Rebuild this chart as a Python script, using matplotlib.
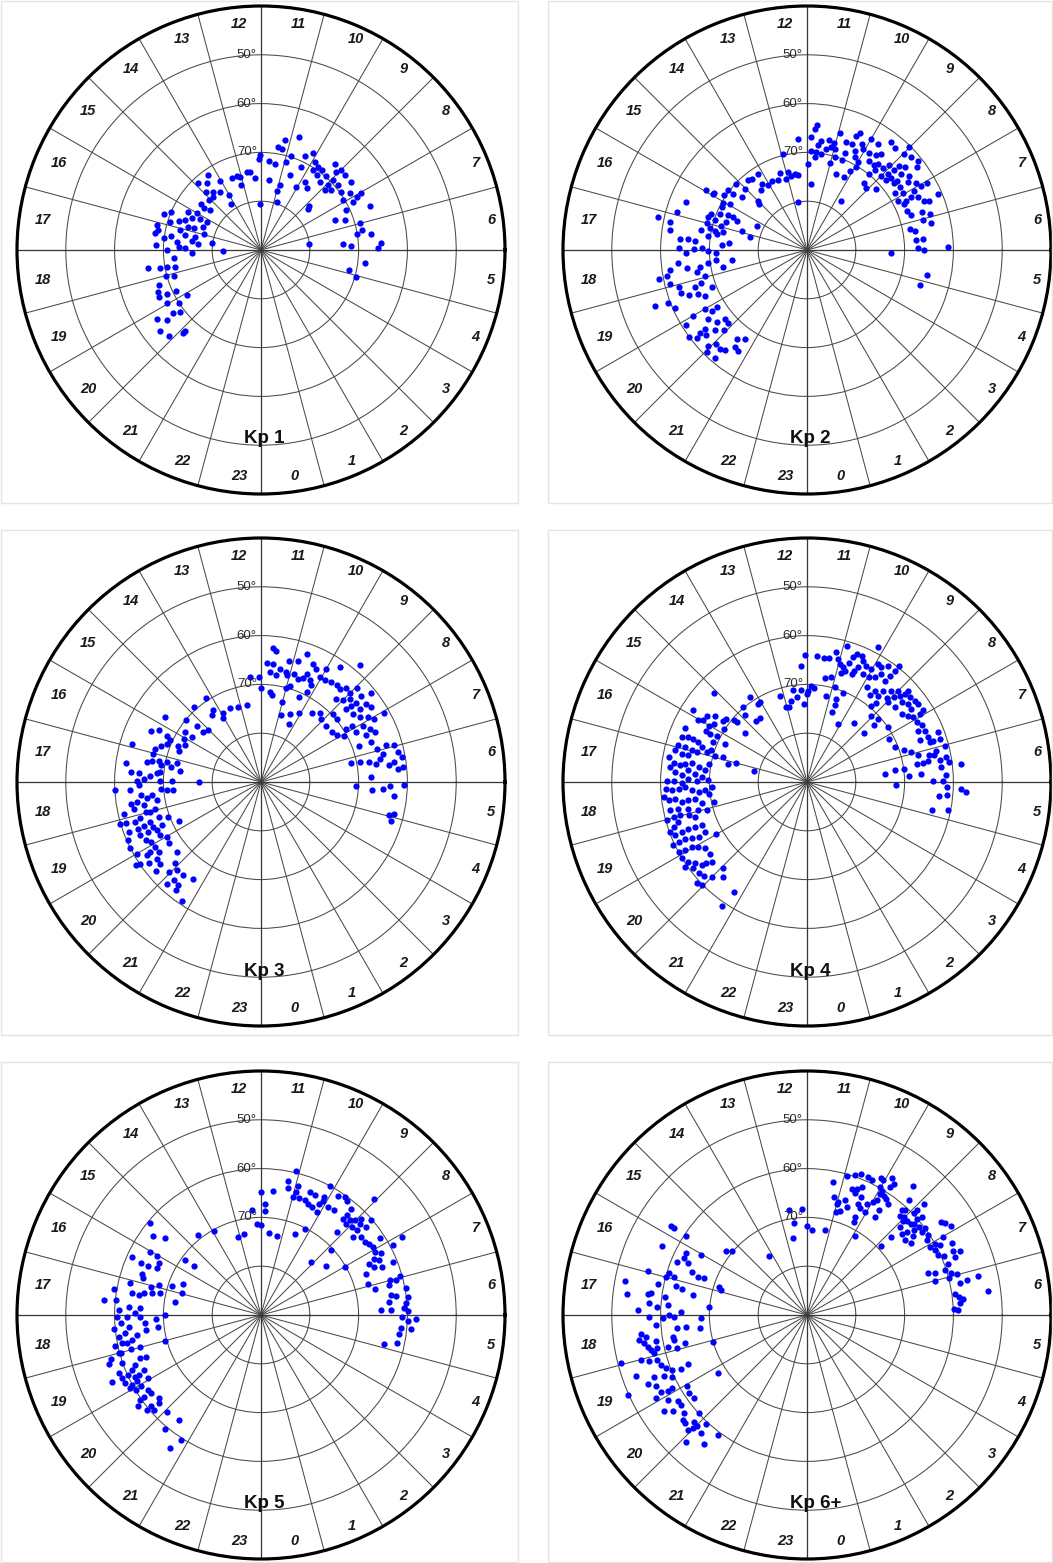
import matplotlib
matplotlib.use('Agg')
import matplotlib.pyplot as plt
import numpy as np
from matplotlib.patches import Rectangle

plt.rcParams['font.family'] = ['Liberation Sans', 'DejaVu Sans']

# panel titles, hour labels, latitude rings
titles = ['Kp 1', 'Kp 2', 'Kp 3', 'Kp 4', 'Kp 5', 'Kp 6+']
hours = list(range(24))
ring_lats = [80, 70, 60, 50]
label_lats = [70, 60, 50]
lat_min = 40

# observations per Kp level: (MLT hours, magnetic latitude deg)
kp1 = [
    (10.77, 65.6), (11.18, 67.0), (11.37, 68.6), (11.23, 68.8), (12.04, 70.6), (12.08, 71.3),
    (11.66, 71.6), (11.39, 72.1), (10.95, 71.3), (10.83, 69.9), (10.33, 68.8), (10.11, 67.5),
    (10.29, 71.2), (9.91, 68.8), (9.70, 69.4), (9.79, 70.5), (9.49, 69.4), (9.56, 70.9),
    (9.25, 69.7), (9.28, 71.6), (8.93, 70.9), (8.88, 72.1), (9.30, 66.7), (8.99, 66.8),
    (9.07, 67.8), (8.79, 67.0), (8.47, 66.8), (8.94, 69.5), (8.67, 69.4), (8.69, 71.1),
    (8.39, 69.7), (8.17, 68.4), (7.94, 67.6), (7.98, 66.3), (7.84, 68.7), (7.67, 70.7),
    (8.09, 70.3), (7.47, 66.0), (7.31, 71.8), (7.47, 73.7), (7.01, 69.0), (6.75, 69.0),
    (6.65, 70.1), (6.54, 67.3), (6.21, 65.4), (6.05, 66.1), (6.26, 73.1), (6.18, 71.5),
    (6.45, 80.1), (5.51, 68.6), (5.13, 71.4), (4.93, 69.7), (8.82, 76.7), (8.70, 77.2),
    (9.81, 73.4), (9.53, 74.2), (10.04, 75.2), (10.59, 73.6), (10.91, 76.2), (10.97, 77.4),
    (11.54, 75.6), (10.80, 79.7), (12.05, 80.6), (12.32, 75.2), (12.53, 73.9), (12.69, 73.8),
    (13.07, 74.4), (13.16, 76.1), (13.21, 74.1), (13.47, 74.0), (14.18, 78.7), (18.07, 82.3),
    (14.03, 73.5), (14.01, 77.0), (14.34, 75.4), (14.62, 74.6), (14.89, 73.6), (14.61, 72.4),
    (14.88, 71.1), (14.37, 71.2), (15.10, 75.2), (14.83, 75.4), (15.46, 76.8), (15.57, 75.4),
    (15.99, 74.8), (15.51, 74.5), (16.15, 73.2), (16.37, 74.4), (16.57, 73.3), (16.70, 72.1),
    (16.82, 74.3), (16.81, 75.5), (16.17, 76.0), (16.57, 77.3), (16.15, 77.6), (16.93, 77.8),
    (17.27, 76.3), (17.64, 77.0), (17.43, 79.8), (17.25, 74.2), (17.49, 75.7), (16.63, 68.7),
    (16.48, 69.9), (17.10, 68.1), (17.27, 68.6), (16.85, 70.5), (17.07, 73.0), (17.55, 69.9),
    (17.98, 70.7), (17.82, 68.4), (17.63, 72.7), (17.88, 73.1), (17.91, 74.5), (18.18, 75.8),
    (18.61, 66.6), (18.69, 69.0), (18.67, 70.5), (18.73, 72.1), (19.03, 69.7), (19.13, 71.4),
    (19.25, 67.9), (19.46, 67.2), (19.65, 67.0), (19.74, 70.7), (20.07, 72.2), (19.67, 68.8),
    (19.97, 67.9), (20.19, 69.9), (20.37, 67.8), (20.49, 69.2), (20.24, 64.4), (20.44, 66.0),
    (20.59, 63.5), (20.89, 64.2), (21.12, 67.1), (21.13, 66.6), (18.36, 72.0), (17.40, 68.1),
    (17.41, 71.4),
]

kp2 = [
    (11.69, 64.4), (11.74, 65.1), (10.96, 65.2), (10.39, 63.7), (10.45, 64.5), (12.31, 67.1),
    (11.85, 66.9), (11.53, 67.4), (11.26, 67.1), (11.06, 67.4), (11.11, 68.4), (10.95, 68.6),
    (11.28, 68.9), (11.60, 68.4), (11.64, 69.9), (11.44, 70.1), (11.83, 69.7), (11.66, 70.9),
    (10.67, 66.5), (10.47, 66.5), (10.18, 65.5), (10.08, 66.3), (10.29, 67.5), (10.57, 68.6),
    (10.58, 70.3), (10.17, 68.6), (9.98, 69.1), (9.95, 70.3), (10.11, 71.6), (10.21, 73.3),
    (10.60, 73.3), (10.90, 70.1), (11.00, 71.5), (10.01, 63.7), (9.75, 63.9), (9.47, 62.0),
    (9.29, 62.4), (9.81, 66.4), (9.59, 66.0), (9.48, 65.2), (9.66, 67.8), (9.47, 67.8),
    (9.36, 67.1), (9.31, 68.4), (9.16, 67.1), (9.05, 65.8), (8.89, 67.2), (8.84, 65.7),
    (8.82, 64.4), (9.00, 68.6), (8.76, 68.4), (8.71, 67.3), (8.49, 66.7), (8.59, 65.3),
    (9.01, 60.3), (8.98, 62.0), (8.79, 61.4), (8.59, 60.9), (8.47, 61.8), (8.69, 63.7),
    (8.39, 64.1), (8.11, 63.7), (8.27, 65.1), (7.96, 63.2), (7.93, 61.8), (7.93, 64.9),
    (8.05, 67.2), (7.76, 67.3), (7.79, 66.0), (7.69, 64.8), (7.51, 64.0), (7.46, 63.0),
    (7.55, 60.7), (8.27, 67.1), (8.51, 67.6), (8.20, 68.5), (7.89, 68.8), (7.69, 68.1),
    (7.42, 67.9), (7.23, 67.6), (7.21, 65.3), (7.10, 63.7), (6.96, 65.4), (6.81, 64.1),
    (6.75, 68.4), (6.67, 67.6), (6.35, 67.6), (6.35, 66.1), (6.06, 67.3), (6.01, 66.1),
    (6.07, 61.2), (5.88, 72.8), (5.22, 64.8), (4.86, 65.7), (9.11, 72.4), (8.77, 71.1),
    (9.32, 72.0), (9.37, 69.9), (9.65, 77.8), (12.70, 80.0), (11.79, 76.5), (11.96, 72.3),
    (12.93, 69.7), (12.91, 73.5), (12.83, 74.5), (12.58, 74.2), (13.08, 74.9), (12.45, 74.6),
    (13.30, 73.3), (13.48, 74.4), (13.79, 74.2), (14.05, 74.4), (14.27, 73.7), (14.49, 74.6),
    (14.99, 75.8), (15.05, 76.4), (14.54, 71.6), (14.67, 71.3), (14.21, 71.5), (15.04, 72.2),
    (15.39, 72.7), (15.14, 70.0), (15.51, 71.0), (15.52, 69.7), (15.77, 69.7), (16.06, 70.4),
    (15.95, 71.6), (15.89, 67.7), (15.97, 65.9), (16.31, 78.6), (17.17, 78.0), (16.89, 76.2),
    (16.50, 74.4), (16.40, 73.3), (16.41, 72.4), (16.21, 70.4), (16.51, 70.7), (16.63, 69.1),
    (16.80, 70.2), (16.78, 68.7), (16.99, 68.7), (17.13, 69.6), (17.21, 70.7), (16.95, 71.6),
    (16.73, 72.4), (17.21, 72.5), (17.35, 71.2), (17.47, 69.6), (17.29, 68.0), (17.69, 67.0),
    (17.66, 65.6), (17.68, 63.9), (17.95, 63.7), (18.10, 65.2), (17.98, 66.9), (17.94, 68.4),
    (18.03, 69.8), (18.11, 71.3), (17.78, 72.5), (17.68, 74.0), (18.50, 74.4), (18.75, 72.5),
    (18.41, 71.2), (18.51, 69.6), (18.61, 67.8), (18.74, 67.0), (18.97, 68.4), (19.16, 67.3),
    (19.21, 65.9), (18.58, 65.1), (18.39, 63.5), (18.55, 61.7), (18.71, 60.8), (18.74, 59.0),
    (18.92, 61.0), (19.08, 62.7), (19.25, 62.8), (19.39, 64.1), (19.47, 66.0), (19.61, 67.1),
    (19.42, 69.0), (19.35, 56.9), (19.38, 59.5), (19.59, 60.5), (20.01, 63.1), (20.01, 65.9),
    (20.20, 66.9), (20.15, 68.1), (20.33, 65.3), (20.58, 66.3), (20.67, 68.0), (20.86, 68.0),
    (20.92, 66.3), (20.74, 65.0), (20.52, 63.6), (20.52, 62.3), (20.66, 62.9), (20.42, 59.9),
    (20.57, 61.1), (20.95, 61.8), (21.05, 63.2), (21.25, 63.0), (21.39, 63.5), (21.31, 61.0),
    (21.57, 65.3), (21.72, 64.9), (21.45, 66.7), (21.69, 67.8), (21.04, 60.7), (20.11, 60.8),
    (17.22, 61.4), (17.17, 58.8), (17.45, 61.7), (16.92, 62.2), (16.55, 63.3), (15.93, 67.6),
]

kp3 = [
    (11.65, 62.4), (11.57, 63.0), (10.67, 62.2), (11.82, 65.5), (11.60, 65.6), (11.13, 64.6),
    (10.86, 64.1), (10.42, 63.5), (10.29, 64.2), (10.01, 63.3), (9.69, 61.4), (9.33, 58.6),
    (11.37, 66.5), (11.15, 66.9), (11.45, 67.9), (11.08, 67.4), (10.87, 66.9), (10.69, 67.5),
    (10.53, 67.1), (10.45, 66.0), (10.29, 66.9), (10.89, 69.4), (11.01, 70.1), (11.69, 67.4),
    (12.06, 68.4), (12.00, 70.7), (11.62, 71.4), (11.51, 72.0), (11.03, 73.1), (10.91, 75.7),
    (10.46, 74.9), (10.27, 76.8), (10.07, 73.9), (10.39, 70.8), (10.19, 69.2), (10.17, 67.6),
    (9.56, 72.4), (9.30, 71.5), (9.11, 72.2), (10.05, 65.4), (9.87, 65.4), (9.65, 65.0),
    (9.47, 64.8), (9.32, 65.0), (9.19, 63.9), (9.02, 64.2), (8.95, 62.5), (8.73, 63.0),
    (8.59, 61.0), (9.19, 67.0), (8.99, 66.3), (8.87, 65.1), (8.68, 65.8), (8.64, 64.7),
    (8.42, 64.8), (8.44, 63.1), (8.27, 62.7), (8.71, 67.0), (8.43, 66.5), (8.22, 65.8),
    (8.08, 64.4), (7.95, 63.5), (7.95, 61.2), (7.93, 66.1), (7.74, 65.2), (7.57, 64.5),
    (8.89, 69.7), (8.65, 69.7), (8.72, 72.3), (8.33, 72.2), (8.11, 71.8), (7.95, 70.5),
    (8.13, 69.4), (8.11, 68.0), (7.84, 68.0), (7.59, 66.4), (7.33, 66.0), (7.07, 65.3),
    (7.09, 63.3), (7.03, 61.8), (6.82, 61.3), (6.86, 64.4), (6.74, 65.2), (6.60, 66.1),
    (6.49, 63.5), (6.57, 62.4), (6.66, 60.7), (6.40, 60.8), (6.37, 61.8), (6.69, 67.4),
    (6.16, 67.4), (7.36, 68.6), (6.75, 69.3), (6.79, 71.1), (5.83, 70.5), (5.71, 67.1),
    (5.78, 65.0), (5.87, 63.5), (5.59, 62.5), (5.93, 60.6), (5.03, 62.8), (4.88, 62.2),
    (5.11, 61.9), (12.40, 68.3), (12.70, 73.9), (13.11, 73.9), (13.51, 73.6), (13.91, 73.9),
    (14.03, 74.8), (14.23, 72.3), (14.42, 73.0), (14.21, 69.5), (14.77, 69.4), (15.35, 70.1),
    (15.24, 72.5), (15.29, 74.4), (15.01, 74.8), (15.77, 73.1), (15.78, 71.4), (16.05, 71.8),
    (16.42, 71.4), (16.61, 72.0), (16.25, 72.7), (16.33, 69.5), (16.25, 68.5), (16.22, 66.5),
    (16.33, 65.2), (15.73, 66.3), (16.53, 69.2), (16.67, 68.1), (16.83, 67.3), (17.02, 67.1),
    (17.27, 67.3), (17.34, 66.2), (17.22, 68.6), (17.20, 70.3), (17.37, 71.2), (17.50, 73.2),
    (17.15, 72.4), (18.01, 77.2), (17.37, 69.3), (17.63, 69.2), (16.91, 62.5), (17.47, 62.0),
    (17.71, 63.3), (18.20, 60.1), (18.22, 63.2), (17.97, 64.6), (18.08, 65.0), (17.89, 66.0),
    (17.80, 67.3), (17.67, 68.7), (17.97, 69.4), (18.31, 70.7), (18.33, 72.0), (17.97, 71.8),
    (18.40, 65.2), (18.53, 66.5), (18.44, 67.6), (18.64, 68.4), (18.61, 64.3), (18.64, 62.9),
    (18.89, 61.2), (19.12, 61.0), (19.38, 61.1), (19.58, 60.2), (19.17, 63.0), (19.11, 64.2),
    (18.97, 65.6), (19.01, 66.5), (18.94, 67.7), (19.27, 67.8), (19.39, 69.7), (19.69, 71.3),
    (19.38, 63.0), (19.37, 64.4), (19.58, 64.6), (19.50, 66.0), (19.66, 66.5), (19.85, 66.7),
    (20.01, 67.7), (19.59, 63.0), (19.79, 63.6), (19.90, 64.4), (20.10, 64.6), (20.29, 64.6),
    (20.15, 63.2), (20.17, 62.2), (20.01, 60.7), (20.28, 60.0), (20.38, 61.7), (20.45, 63.5),
    (20.69, 61.8), (20.61, 63.3), (20.95, 63.6), (20.90, 65.8), (21.09, 65.1), (21.33, 65.1),
    (21.15, 61.6), (21.22, 63.1), (21.44, 61.8), (21.40, 62.9), (21.76, 60.7), (21.66, 65.6),
    (20.24, 67.3), (20.65, 67.6), (19.57, 67.9), (19.32, 65.9), (18.79, 63.4), (18.75, 65.5),
    (18.25, 69.4), (17.72, 64.9), (19.12, 59.9), (19.79, 59.9), (20.25, 59.3),
]

kp4 = [
    (10.90, 61.0), (10.15, 58.8), (12.07, 64.0), (12.21, 66.2), (11.69, 64.1), (11.49, 64.3),
    (11.34, 64.3), (11.15, 62.7), (11.06, 64.1), (10.97, 65.0), (10.84, 65.4), (10.74, 65.9),
    (10.84, 66.5), (10.72, 64.1), (10.64, 62.7), (10.57, 61.9), (10.43, 61.9), (10.35, 62.7),
    (10.20, 63.3), (10.41, 64.3), (10.46, 65.2), (10.49, 66.1), (10.18, 65.1), (10.03, 63.4),
    (9.93, 61.8), (9.81, 62.0), (9.67, 61.0), (9.81, 64.5), (9.70, 63.2), (9.48, 62.4),
    (9.50, 63.9), (9.45, 61.0), (9.45, 59.7), (9.95, 65.0), (11.36, 68.3), (11.13, 68.0),
    (11.83, 70.3), (11.96, 71.3), (11.72, 70.6), (12.26, 71.1), (12.43, 72.4), (12.75, 73.0),
    (12.91, 74.2), (12.15, 74.0), (12.02, 72.0), (11.16, 71.9), (10.92, 69.8), (10.53, 70.4),
    (10.71, 72.0), (10.68, 73.3), (10.69, 74.8), (10.13, 76.5), (9.45, 74.6), (8.71, 74.7),
    (8.67, 72.0), (8.78, 70.6), (9.07, 71.1), (9.33, 69.6), (9.25, 68.6), (8.27, 69.9),
    (7.85, 71.0), (6.40, 73.9), (5.86, 71.8), (6.50, 71.8), (9.86, 66.9), (9.60, 68.0),
    (9.57, 66.7), (9.36, 67.1), (9.35, 65.7), (9.11, 66.2), (8.96, 66.7), (8.94, 65.1),
    (9.16, 64.6), (9.01, 63.7), (8.86, 64.0), (8.69, 66.3), (8.67, 64.6), (8.79, 63.0),
    (8.81, 62.2), (8.63, 62.7), (8.52, 63.9), (8.33, 63.9), (8.47, 62.3), (8.33, 62.2),
    (8.07, 63.0), (8.11, 62.0), (8.09, 64.5), (8.23, 65.3), (8.38, 66.1), (7.91, 64.4),
    (7.75, 63.8), (7.65, 64.9), (7.57, 63.7), (7.35, 63.5), (7.35, 65.4), (7.20, 63.5),
    (7.19, 62.9), (7.39, 61.2), (7.20, 61.4), (6.96, 60.7), (6.91, 62.7), (6.79, 63.4),
    (6.62, 62.4), (6.68, 61.1), (6.53, 60.6), (6.42, 62.4), (6.04, 64.1), (6.03, 62.2),
    (6.20, 61.5), (6.45, 58.3), (5.83, 58.4), (5.75, 57.4), (5.86, 61.2), (5.64, 61.1),
    (5.25, 60.5), (5.15, 63.7), (5.59, 62.8), (6.28, 66.6), (6.21, 69.0), (6.52, 69.9),
    (7.09, 67.8), (7.22, 69.0), (6.90, 66.7), (6.62, 66.0), (6.64, 64.8), (6.84, 64.4),
    (6.63, 67.2), (7.44, 70.6), (15.07, 63.6), (15.83, 62.4), (15.77, 65.4), (15.62, 66.8),
    (16.03, 64.4), (15.95, 65.1), (16.00, 66.9), (15.87, 67.6), (15.61, 68.8), (15.49, 69.0),
    (15.31, 70.3), (15.27, 71.1), (15.83, 69.8), (16.33, 71.5), (16.19, 69.2), (16.24, 67.8),
    (16.23, 66.8), (16.87, 72.1), (17.13, 73.3), (16.99, 75.0), (16.93, 70.4), (16.77, 69.2),
    (16.48, 69.0), (14.70, 69.9), (14.27, 69.0), (14.13, 71.2), (14.43, 73.7), (14.63, 73.7),
    (14.85, 71.3), (15.45, 73.8), (17.25, 78.9), (13.17, 71.5), (13.07, 74.1), (12.57, 71.0),
    (14.03, 71.0), (16.41, 62.7), (16.69, 62.8), (16.62, 64.0), (16.61, 65.1), (16.65, 66.3),
    (16.77, 67.4), (16.89, 68.6), (17.30, 69.5), (17.57, 69.0), (17.48, 67.6), (17.38, 66.1),
    (17.43, 64.8), (17.50, 63.8), (17.46, 62.4), (17.59, 61.8), (17.71, 62.9), (17.80, 64.3),
    (17.89, 65.7), (17.72, 67.0), (17.82, 68.4), (17.94, 69.8), (18.20, 70.6), (18.45, 69.7),
    (18.81, 70.5), (18.31, 69.1), (18.35, 67.7), (18.27, 66.4), (18.16, 65.0), (18.20, 63.7),
    (18.23, 62.3), (18.18, 61.1), (18.40, 60.5), (18.50, 61.4), (18.48, 62.8), (18.60, 64.0),
    (18.59, 65.4), (18.56, 66.8), (18.77, 68.0), (19.05, 68.8), (18.97, 67.0), (18.84, 65.1),
    (18.78, 63.1), (18.78, 61.4), (19.01, 60.3), (18.97, 61.8), (18.98, 63.1), (19.04, 64.8),
    (19.15, 66.0), (19.15, 62.4), (19.24, 61.2), (19.33, 60.2), (19.47, 60.9), (19.45, 62.4),
    (19.43, 63.9), (19.45, 65.3), (19.49, 66.7), (19.73, 66.7), (19.79, 65.1), (19.74, 63.7),
    (19.66, 62.5), (19.66, 61.0), (19.69, 59.7), (19.90, 60.1), (19.95, 61.4), (19.95, 62.9),
    (20.05, 64.1), (20.21, 65.1), (20.43, 65.3), (19.96, 68.5), (20.66, 64.6), (20.60, 63.5),
    (20.55, 62.5), (20.40, 61.6), (20.26, 60.7), (20.09, 59.9), (20.32, 59.6), (20.48, 60.7),
    (20.67, 61.0), (20.84, 61.4), (20.99, 62.5), (21.05, 65.4), (21.23, 64.1), (20.84, 59.3),
    (20.96, 59.9), (21.77, 62.9), (21.69, 59.2), (17.32, 61.2), (17.10, 62.2), (16.94, 62.6),
    (16.93, 64.0), (16.98, 65.5), (16.99, 66.6), (17.16, 65.1), (17.15, 63.7), (17.98, 61.3),
    (17.63, 65.6), (17.98, 67.4), (18.02, 64.4), (17.98, 62.7),
]

kp5 = [
    (11.09, 59.7), (11.24, 61.9), (11.19, 63.4), (10.93, 62.4), (10.93, 63.8), (11.00, 65.0),
    (10.79, 64.8), (10.13, 60.0), (11.63, 64.4), (12.00, 64.7), (11.86, 67.2), (11.85, 68.6),
    (12.34, 68.4), (10.54, 62.9), (10.39, 63.1), (10.59, 64.8), (10.47, 65.2), (10.31, 65.5),
    (10.09, 66.0), (10.17, 64.4), (10.09, 63.3), (9.87, 63.9), (9.69, 63.8), (9.81, 60.9),
    (9.64, 60.4), (9.54, 60.7), (10.13, 62.7), (9.31, 61.4), (9.29, 63.1), (9.31, 64.1),
    (9.13, 63.4), (9.02, 62.7), (8.85, 62.4), (8.92, 61.5), (8.66, 61.9), (8.72, 60.1),
    (8.93, 64.1), (8.76, 63.8), (9.13, 64.4), (8.69, 65.3), (8.53, 64.0), (8.35, 64.0),
    (8.22, 63.4), (8.08, 63.1), (8.19, 61.0), (7.93, 63.3), (7.81, 62.3), (7.77, 64.2),
    (7.67, 63.4), (7.69, 65.4), (7.53, 64.8), (7.45, 63.3), (7.47, 60.9), (7.87, 59.3),
    (7.93, 57.0), (9.05, 56.7), (7.43, 66.8), (7.09, 67.1), (6.84, 66.0), (7.01, 62.7),
    (6.98, 61.4), (7.05, 60.5), (6.87, 63.0), (6.58, 63.0), (6.40, 63.7), (6.53, 62.0),
    (6.69, 59.7), (6.47, 59.7), (6.31, 60.2), (6.18, 60.6), (6.10, 59.8), (5.95, 61.2),
    (5.84, 59.9), (5.89, 58.2), (5.64, 61.2), (5.64, 59.1), (5.47, 61.4), (5.22, 61.6),
    (5.11, 64.2), (6.16, 65.4), (6.15, 63.3), (9.17, 66.9), (8.87, 70.5), (9.10, 75.0),
    (8.45, 73.3), (7.99, 70.2), (10.47, 71.9), (10.19, 70.3), (11.25, 73.5), (11.62, 73.1),
    (12.00, 71.6), (12.15, 71.4), (12.79, 73.0), (13.07, 73.3), (13.97, 70.3), (14.55, 69.0),
    (15.35, 60.5), (15.59, 62.6), (15.41, 64.8), (15.59, 70.8), (15.59, 73.1), (16.54, 72.7),
    (16.98, 73.2), (17.43, 72.2), (16.80, 70.8), (18.00, 70.4), (19.01, 69.7), (16.38, 61.0),
    (16.44, 63.1), (16.45, 64.8), (16.72, 64.2), (16.02, 63.9), (16.03, 65.6), (16.22, 66.5),
    (16.39, 66.7), (16.85, 64.6), (17.08, 62.4), (17.35, 63.2), (17.38, 64.6), (17.29, 65.6),
    (17.23, 67.2), (17.04, 66.7), (16.89, 68.2), (17.17, 68.9), (18.16, 68.4), (18.43, 68.7),
    (17.64, 57.7), (17.34, 59.4), (17.61, 60.2), (17.87, 60.9), (18.04, 60.5), (18.37, 59.7),
    (18.58, 60.5), (18.51, 61.8), (18.34, 62.8), (18.05, 62.6), (17.76, 62.9), (17.95, 64.1),
    (17.79, 65.1), (18.05, 65.3), (18.27, 66.1), (18.49, 66.3), (18.61, 64.3), (18.73, 63.1),
    (18.79, 62.0), (18.77, 61.0), (18.81, 59.5), (19.00, 59.9), (19.09, 57.9), (19.19, 57.3),
    (19.61, 56.6), (19.02, 60.3), (19.27, 59.9), (19.48, 58.6), (19.63, 58.8), (19.77, 58.8),
    (19.61, 60.1), (19.53, 61.2), (19.73, 61.2), (19.74, 62.1), (19.68, 63.6), (19.94, 63.5),
    (19.88, 61.2), (19.89, 60.0), (19.94, 59.2), (20.06, 60.2), (20.05, 61.4), (20.23, 62.2),
    (20.36, 62.4), (20.32, 60.7), (20.34, 59.8), (20.43, 58.6), (20.65, 59.7), (20.65, 60.7),
    (20.61, 63.0), (20.73, 62.4), (20.77, 60.8), (21.07, 62.3), (21.45, 62.7), (21.33, 59.5),
    (21.82, 59.5), (21.72, 57.0), (19.44, 62.3), (19.31, 63.6), (19.33, 65.0), (18.97, 64.3),
    (18.22, 61.2), (18.98, 62.4),
]

kp6 = [
    (11.27, 62.2), (10.93, 60.3), (10.73, 59.7), (10.61, 59.1), (10.41, 59.0), (10.28, 59.3),
    (10.11, 58.2), (10.03, 58.3), (9.88, 56.9), (9.77, 57.8), (9.80, 58.8), (10.02, 59.9),
    (9.93, 60.3), (9.81, 60.9), (9.71, 61.2), (9.59, 61.8), (9.93, 61.0), (9.91, 62.5),
    (9.97, 63.2), (9.69, 63.9), (10.11, 64.1), (10.37, 63.5), (10.55, 62.2), (10.46, 61.4),
    (10.69, 62.6), (10.56, 63.1), (10.35, 64.9), (10.23, 65.6), (10.04, 65.8), (10.25, 67.6),
    (10.21, 68.6), (10.77, 65.2), (10.96, 66.0), (11.15, 65.2), (11.00, 66.4), (10.83, 67.6),
    (10.95, 68.1), (10.65, 66.5), (9.93, 71.0), (8.87, 69.3), (9.68, 65.6), (9.37, 55.7),
    (9.23, 58.5), (9.14, 60.5), (9.03, 61.8), (9.13, 62.1), (8.89, 61.8), (8.76, 61.7),
    (8.91, 59.7), (8.92, 58.8), (8.91, 56.9), (8.70, 59.1), (8.75, 60.1), (8.70, 61.2),
    (8.55, 60.8), (8.42, 59.9), (8.39, 61.0), (8.22, 60.3), (8.56, 62.0), (8.65, 63.4),
    (8.71, 64.4), (8.89, 63.7), (8.49, 64.8), (8.31, 64.2), (8.87, 66.5), (8.13, 61.1),
    (7.93, 61.2), (7.94, 59.9), (7.85, 59.3), (7.99, 57.8), (8.31, 56.5), (8.25, 56.1),
    (8.11, 55.4), (7.79, 60.6), (7.63, 60.5), (7.56, 59.3), (7.76, 56.8), (7.57, 57.3),
    (7.51, 56.0), (7.43, 57.5), (7.33, 59.3), (7.20, 60.3), (7.07, 59.2), (7.03, 58.2),
    (6.98, 60.0), (6.78, 58.0), (6.82, 56.5), (6.85, 54.1), (6.50, 52.6), (6.55, 59.4),
    (6.46, 58.7), (6.38, 57.9), (6.29, 58.6), (6.16, 59.9), (6.13, 59.0), (7.26, 63.7),
    (7.20, 62.4), (6.98, 62.8), (9.20, 61.0), (8.95, 62.5), (8.43, 62.9), (12.66, 68.1),
    (12.18, 68.3), (12.52, 71.0), (12.00, 71.7), (11.78, 72.5), (11.19, 72.1), (12.70, 73.9),
    (14.17, 75.7), (15.79, 56.8), (15.79, 57.5), (15.80, 60.4), (16.31, 57.1), (15.46, 68.8),
    (15.30, 69.9), (16.19, 62.1), (16.51, 61.3), (16.34, 62.2), (16.43, 63.3), (16.03, 65.0),
    (16.63, 64.9), (16.72, 66.3), (16.67, 67.6), (16.88, 60.5), (16.99, 60.1), (16.97, 56.1),
    (17.21, 58.7), (17.46, 57.7), (16.93, 61.7), (17.23, 63.9), (17.17, 62.5), (17.34, 66.2),
    (16.81, 71.1), (16.93, 71.6), (17.68, 69.9), (18.10, 68.2), (18.47, 68.0), (19.05, 69.9),
    (20.21, 68.2), (17.30, 52.0), (17.55, 52.9), (17.49, 57.2), (17.89, 55.3), (18.04, 57.7),
    (18.25, 59.0), (18.09, 60.4), (17.99, 61.8), (18.05, 62.8), (17.90, 64.1), (17.73, 61.4),
    (17.51, 60.6), (17.79, 59.3), (17.72, 57.6), (18.37, 65.0), (18.39, 63.3), (18.61, 62.1),
    (18.85, 60.7), (18.71, 62.3), (18.96, 62.6), (18.87, 64.3), (18.44, 55.8), (18.56, 55.3),
    (18.65, 56.2), (18.75, 56.7), (18.84, 57.2), (18.93, 57.8), (19.01, 54.8), (18.97, 50.7),
    (19.09, 56.3), (19.11, 58.0), (19.25, 58.4), (19.37, 59.1), (19.47, 60.1), (19.55, 58.2),
    (19.63, 59.5), (19.55, 61.9), (19.50, 63.7), (19.31, 52.9), (19.57, 54.4), (19.67, 55.8),
    (19.48, 56.2), (19.85, 56.3), (19.92, 54.7), (19.91, 57.6), (19.90, 58.6), (20.03, 61.4),
    (20.23, 61.0), (20.42, 61.3), (20.09, 56.6), (20.25, 58.1), (20.36, 58.3), (20.57, 57.8),
    (20.67, 56.7), (20.76, 56.6), (20.89, 58.2), (20.81, 60.1), (21.03, 58.0), (20.97, 57.1),
    (20.92, 56.1), (21.20, 57.5), (21.15, 59.5), (21.56, 59.3), (21.10, 54.1), (21.43, 56.2),
    (20.27, 54.7), (20.38, 56.3), (19.60, 49.9), (18.51, 56.7), (18.65, 58.6), (18.82, 58.6),
]

panels = [kp1, kp2, kp3, kp4, kp5, kp6]

W, H = 1053, 1563
R = 244  # dial radius in pixels
centers = [(261, 250), (807, 250), (261, 782), (807, 782), (261, 1315), (807, 1315)]
frames = [(1, 1, 517, 502), (548, 1, 504, 502),
          (1, 530, 517, 505), (548, 530, 504, 505),
          (1, 1062, 517, 500), (548, 1062, 504, 500)]


def mlt_to_theta(mlt):
    # noon at the top, dusk on the left
    return np.deg2rad((np.asarray(mlt, dtype=float) - 6.0) * 15.0)


fig = plt.figure(figsize=(W / 100, H / 100), dpi=100)
fig.patch.set_facecolor('white')

for (fx, fy, fw, fh) in frames:
    fig.add_artist(Rectangle((fx / W, 1 - (fy + fh) / H), fw / W, fh / H,
                             transform=fig.transFigure, fill=False,
                             ec='#e4e4e4', lw=1.0))

rmax = 90 - lat_min
for title, pts, (cx, cy) in zip(titles, panels, centers):
    ax = fig.add_axes([(cx - R) / W, (H - cy - R) / H, 2 * R / W, 2 * R / H],
                      projection='polar')
    ax.set_ylim(0, rmax)
    ax.set_thetagrids(np.arange(0, 360, 15), labels=[''] * 24)
    ax.set_rgrids([90 - l for l in ring_lats], labels=[''] * len(ring_lats))
    ax.grid(True, color='#4a4a4a', lw=0.75)
    ax.tick_params(length=0, pad=0)
    ax.spines['polar'].set_linewidth(2.3)
    ax.spines['polar'].set_color('black')

    # main noon-midnight / dawn-dusk axes a bit heavier
    for ang in (0, 90, 180, 270):
        ax.plot([np.deg2rad(ang)] * 2, [0, rmax], color='#383838', lw=0.9, zorder=2)

    pts = np.array(pts)
    ax.plot(mlt_to_theta(pts[:, 0]), 90 - pts[:, 1], 'o', color='#0000ff',
            ms=4.5, mec='none', zorder=3)

    for h in hours:
        ax.text(mlt_to_theta(h + 0.5), 46.7, str(h), ha='left', va='center',
                fontsize=10.5, style='italic', fontweight='bold', color='#1a1a1a',
                zorder=4)

    for lat in label_lats:
        ax.annotate(f'{lat}°', xy=(np.pi / 2, 90 - lat), xytext=(-3, 0),
                    textcoords='offset points', ha='right', va='center',
                    fontsize=9.5, color='#2a2a2a', zorder=4)

    ax.text(0.5 - 17 / (2 * R), 0.5 - 189 / (2 * R), title, transform=ax.transAxes,
            ha='left', va='center', fontsize=13.5, fontweight='bold', color='#111111',
            zorder=4)

fig.savefig('out.png', dpi=100)
